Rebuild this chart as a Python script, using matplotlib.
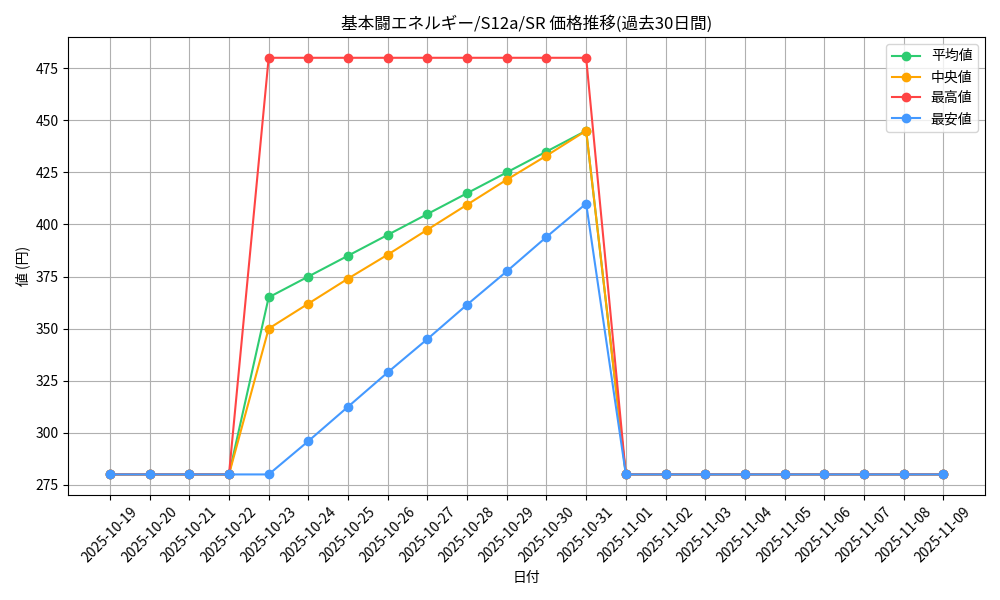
import matplotlib
matplotlib.use("Agg")
import matplotlib.pyplot as plt

plt.rcParams['font.family'] = ['Noto Sans CJK JP', 'DejaVu Sans']

dates = ["2025-10-19","2025-10-20","2025-10-21","2025-10-22","2025-10-23","2025-10-24","2025-10-25",
         "2025-10-26","2025-10-27","2025-10-28","2025-10-29","2025-10-30","2025-10-31","2025-11-01",
         "2025-11-02","2025-11-03","2025-11-04","2025-11-05","2025-11-06","2025-11-07","2025-11-08","2025-11-09"]
avg = [280,280,280,280,365,375,385,395,405,415,425,435,445,280,280,280,280,280,280,280,280,280]
median = [280,280,280,280,350,362,374,385.5,397.5,409.5,421.5,433,445,280,280,280,280,280,280,280,280,280]
high = [280,280,280,280,480,480,480,480,480,480,480,480,480,280,280,280,280,280,280,280,280,280]
low = [280,280,280,280,280,296,312.5,329,345,361.5,377.5,394,410,280,280,280,280,280,280,280,280,280]

fig, ax = plt.subplots(figsize=(10, 6), dpi=100)
x = range(len(dates))
ax.plot(x, avg, marker='o', color='#2ecc71', label='平均値')
ax.plot(x, median, marker='o', color='#ffa500', label='中央値')
ax.plot(x, high, marker='o', color='#ff4444', label='最高値')
ax.plot(x, low, marker='o', color='#4499ff', label='最安値')
ax.set_xticks(list(x))
ax.set_xticklabels(dates, rotation=45)
ax.set_title('基本闘エネルギー/S12a/SR 価格推移(過去30日間)')
ax.set_xlabel('日付')
ax.set_ylabel('値 (円)')
ax.grid(True)
ax.legend(loc='upper right')
fig.tight_layout()
fig.savefig('out.png')
